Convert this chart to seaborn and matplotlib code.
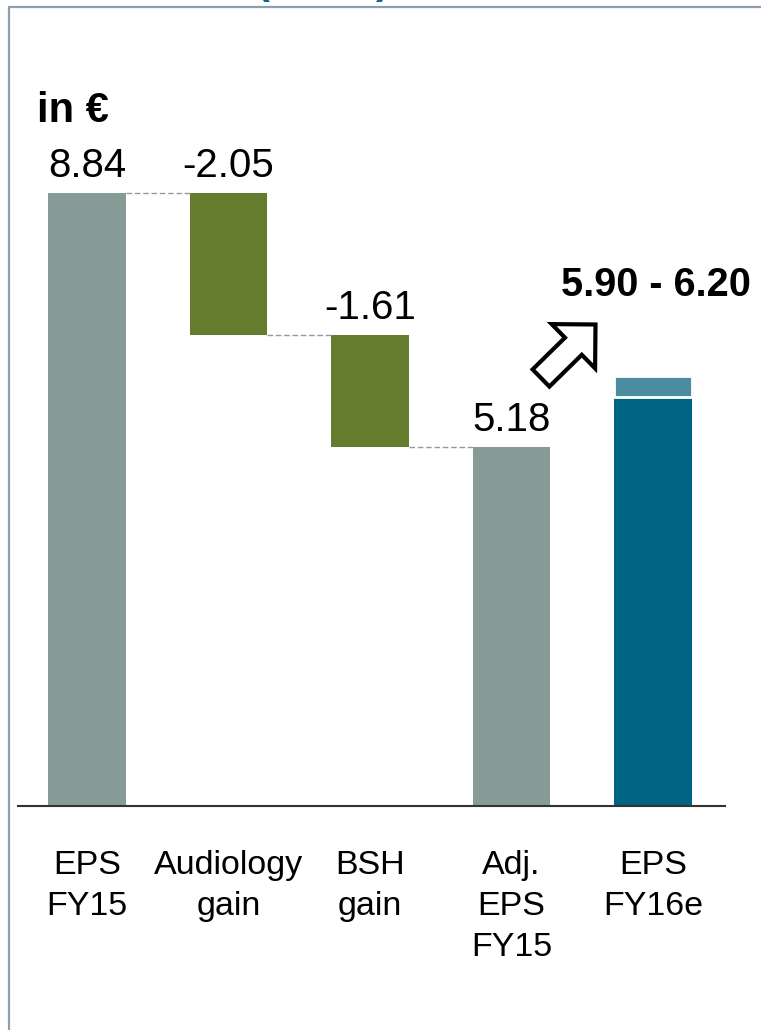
import numpy as np
import matplotlib
matplotlib.use("Agg")
import matplotlib.pyplot as plt
from matplotlib.patches import FancyArrow
import seaborn as sns

# Werte (in EUR)
categories = ["EPS\nFY15", "Audiology\ngain", "BSH\ngain", "Adj.\nEPS\nFY15", "EPS\nFY16e"]
values = [8.84, -2.05, -1.61, 5.18, 5.90]
kinds = ["total", "delta", "delta", "total", "total"]
labels = ["8.84", "-2.05", "-1.61", "5.18", ""]
guidance = [5.90, 6.20]
guidance_label = "5.90 - 6.20"

colors = ["#879B96", "#657C2E", "#657C2E", "#879B96", "#006485"]
range_color = "#3E93AE"

sns.set_style("white")
plt.rcParams["font.family"] = ["Liberation Sans", "DejaVu Sans"]
plt.rcParams["text.color"] = "black"
plt.rcParams["xtick.color"] = "black"

# Waterfall: Basis und Hoehe jedes Balkens
bottoms, heights = [], []
level = 0.0
for v, k in zip(values, kinds):
    if k == "total":
        bottoms.append(0.0)
        heights.append(v)
        level = v
    else:
        new_level = level + v
        bottoms.append(min(level, new_level))
        heights.append(abs(v))
        level = new_level

fig = plt.figure(figsize=(7.61, 10.30), dpi=100)
ax = fig.add_axes([18 / 761, 224 / 1030, 707 / 761, 746 / 1030])

sns.barplot(x=categories, y=heights, bottom=bottoms, width=0.55,
            color=colors[0], linewidth=0, ax=ax)
for patch, c in zip(ax.patches, colors):
    patch.set_facecolor(c)

# Spanne der Prognose
sns.barplot(x=[categories[-1]], y=[guidance[1] - guidance[0]], bottom=guidance[0],
            order=categories, width=0.55, color=range_color,
            edgecolor="white", linewidth=2, ax=ax)

# Verbindungslinien (Ende des einen Balkens -> Start des naechsten)
level = 0.0
for i in range(3):
    level = values[i] if kinds[i] == "total" else level + values[i]
    ax.plot([i + 0.275, i + 1 - 0.275], [level, level], ls=(0, (4, 2)),
            color="#9A9A9A", lw=1)

# Werte ueber den Balken
tops = [b + h for b, h in zip(bottoms, heights)]
for i, lab in enumerate(labels):
    if lab:
        ax.annotate(lab, (i, tops[i]), xytext=(0, 11.5), textcoords="offset points",
                    ha="center", va="baseline", fontsize=29)

ax.annotate(guidance_label, (4, guidance[1]), xytext=(2, 57.6),
            textcoords="offset points", ha="center", va="baseline",
            fontsize=28.5, fontweight="bold")

# Pfeil (in Zoll, Figurkoordinaten)
fig.add_artist(FancyArrow(5.41, 6.52, 0.545, 0.535, width=0.24, head_width=0.62,
                          head_length=0.31, length_includes_head=True,
                          fc="white", ec="black", lw=3, joinstyle="miter",
                          transform=fig.dpi_scale_trans))

ax.set_xlim(-0.488, 4.509)
ax.set_ylim(0, 746 / 69.35)
ax.set_yticks([])
ax.set_ylabel("")
ax.set_xticks(range(len(categories)))
ax.set_xticklabels(categories, fontsize=24.5, linespacing=1.42)
ax.tick_params(axis="x", length=0, pad=31.5)
for s in ["top", "left", "right"]:
    ax.spines[s].set_visible(False)
ax.spines["bottom"].set_color("#333333")
ax.spines["bottom"].set_linewidth(1.5)

fig.text(37 / 761, 1 - 122 / 1030, "in €", fontsize=30, fontweight="bold", va="baseline")

# Rahmen und abgeschnittener Titel
frame = "#8C9FB0"
fig.add_artist(plt.Line2D([8.5 / 761, 8.5 / 761], [0, 1 - 7 / 1030], color=frame, lw=1.6,
                          transform=fig.transFigure))
fig.add_artist(plt.Line2D([8.5 / 761, 1], [1 - 7 / 1030, 1 - 7 / 1030], color=frame, lw=1.6,
                          transform=fig.transFigure))
fig.text(263 / 761, 1.0065, "(", color="#0A6A8E", fontsize=30, fontweight="bold",
         ha="center", va="baseline")
fig.text(383 / 761, 1.0065, ")", color="#0A6A8E", fontsize=30, fontweight="bold",
         ha="center", va="baseline")

fig.savefig("out.png", dpi=100)
